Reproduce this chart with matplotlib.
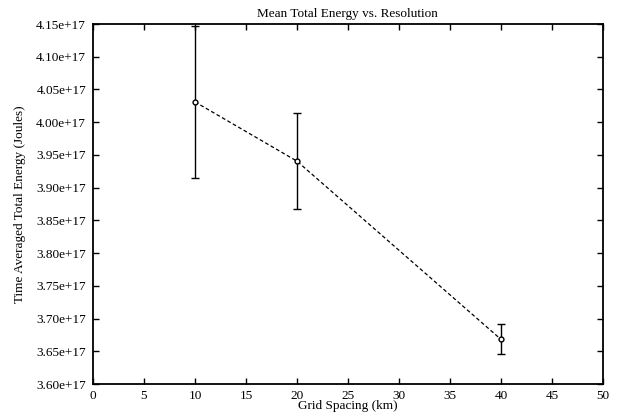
import numpy as np
import matplotlib.pyplot as plt

plt.rcParams["font.family"] = ["Liberation Serif", "DejaVu Serif"]
plt.rcParams["font.size"] = 10

# grid spacing (km) and time-averaged total energy (J)
spacing = [10, 20, 40]
energy = [4.031e17, 3.9405e17, 3.6683e17]
energy_err = [0.1165e17, 0.0738e17, 0.0230e17]

xticks = np.arange(0, 51, 5)
yticks = np.arange(3.60e17, 4.1501e17, 0.05e17)

fig = plt.figure(figsize=(6.18, 4.19), dpi=100)
ax = fig.add_axes([0.1505, 0.0835, 0.825, 0.8592])

ax.errorbar(spacing, energy, yerr=energy_err, fmt="o", color="black",
            ms=3.5, mfc="white", mew=1.0, ecolor="black", elinewidth=1.0,
            capsize=3, capthick=1.0, zorder=3)
ax.plot(spacing, energy, color="black", ls=(0, (3, 2)), lw=0.9, zorder=2)

ax.set_xlim(0, 50)
ax.set_ylim(3.60e17, 4.15e17)
ax.set_xticks(xticks)
ax.set_yticks(yticks)
ax.set_yticklabels(["%.2fe+17" % (v / 1e17) for v in yticks])
ax.tick_params(direction="in", top=True, right=True, length=4, width=1.0,
               labelsize=9.5, pad=5)
ax.tick_params(axis="x", pad=4)
for s in ax.spines.values():
    s.set_linewidth(1.3)

ax.set_title("Mean Total Energy vs. Resolution", fontsize=9.5, pad=5)
ax.set_xlabel("Grid Spacing (km)", fontsize=9.5, labelpad=-1)
ax.set_ylabel("Time Averaged Total Energy (Joules)", fontsize=9.5, labelpad=7)

fig.savefig("out.png", dpi=100)
